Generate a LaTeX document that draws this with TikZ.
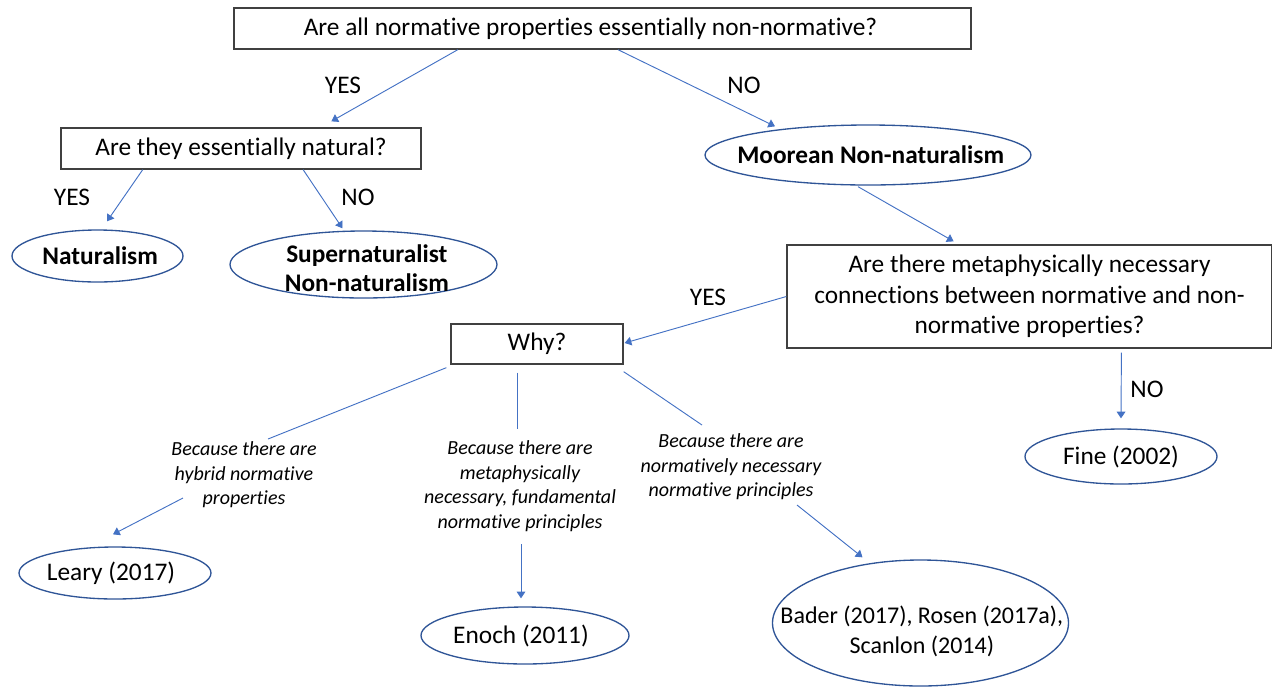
\documentclass[tikz,border=0pt]{standalone}
\usepackage{fontspec}
\setmainfont{Carlito}[Ligatures=NoCommon]
\usetikzlibrary{arrows.meta,shapes.geometric,calc}
\definecolor{lineblue}{HTML}{4472C4}
\definecolor{ellblue}{HTML}{2F5597}
\definecolor{boxgray}{HTML}{404040}
\begin{document}
\begin{tikzpicture}[x=0.75pt,y=-0.75pt,
  qbox/.style={draw=boxgray,line width=1pt,rectangle,inner sep=0pt,align=center,
    font=\fontsize{19}{22.8}\selectfont},
  qtext/.style={inner sep=0pt,align=center,font=\fontsize{19}{22.8}\selectfont},
  oval/.style={draw=ellblue,line width=1pt,ellipse,inner sep=0pt},
  ovaltext/.style={align=center,inner sep=0pt,font=\fontsize{19}{22.5}\selectfont},
  ovalmid/.style={align=center,inner sep=0pt,font=\fontsize{18}{22.5}\selectfont},
  ovalbold/.style={ovaltext,font=\fontsize{19}{22}\selectfont\bfseries},
  yn/.style={inner sep=0pt,font=\fontsize{19}{22}\selectfont},
  reason/.style={inner sep=0pt,align=center,font=\fontsize{15}{18.4}\selectfont\itshape},
  conn/.style={draw=lineblue,line width=0.7pt},
  arr/.style={conn,-{Triangle[length=5pt,width=6.5pt]}}]
\useasboundingbox (0,0) rectangle (1272,687);

% question boxes
\node[qbox,minimum width=552.75pt,minimum height=30.75pt,
  label={[qtext,xshift=-9pt]center:Are all normative properties essentially non-normative?}] (top) at (602.5,28.5) {};
\node[qbox,minimum width=270pt,minimum height=30.75pt] (box2) at (241,148.5)
  {Are they essentially natural?};
\node[qbox,minimum width=363.75pt,minimum height=77.25pt] (box3) at (1029.5,296.5)
  {Are there metaphysically necessary\\connections between normative and non-\\normative properties?};
\node[qbox,minimum width=129pt,minimum height=30pt] (why) at (537,344) {Why?};

% ellipses
\node[oval,minimum width=128.25pt,minimum height=39pt,
  label={[ovalbold,xshift=2pt]center:Naturalism}] (nat) at (97.5,256) {};
\node[oval,minimum width=200.25pt,minimum height=50.25pt,
  label={[ovalbold,xshift=2.5pt,yshift=-3pt]center:Supernaturalist\\Non-naturalism}] (sup) at (363.5,264.5) {};
\node[oval,minimum width=244.5pt,minimum height=45pt,
  label={[ovalbold,xshift=2pt]center:Moorean Non-naturalism}] (moor) at (868,155) {};
\node[oval,minimum width=144pt,minimum height=41.25pt,
  label={[ovaltext]center:Fine (2002)}] (fine) at (1121,456.5) {};
\node[oval,minimum width=144pt,minimum height=39pt,
  label={[ovaltext,xshift=-3pt]center:Leary (2017)}] (leary) at (115,573) {};
\node[oval,minimum width=156pt,minimum height=42.75pt,
  label={[ovaltext,xshift=-3pt]center:Enoch (2011)}] (enoch) at (525,635.5) {};
\node[oval,minimum width=222pt,minimum height=94.5pt,
  label={[ovalmid,xshift=1pt,yshift=-6.5pt]center:Bader (2017), Rosen (2017a),\\Scanlon (2014)}] (bader) at (920.5,623) {};

% reason labels
\node[reason] (lab1) at (244,475) {Because there are\\hybrid normative\\properties};
\node[reason] (lab2) at (520,486) {Because there are\\metaphysically\\necessary, fundamental\\normative principles};
\node[reason] (lab3) at (731,467) {Because there are\\normatively necessary\\normative principles};

% yes/no labels
\node[yn] (y1) at (343,85) {YES};
\node[yn] (n1) at (744,85) {NO};
\node[yn] (y2) at (72,197) {YES};
\node[yn] (n2) at (358,197) {NO};
\node[yn] (y3) at (708,297) {YES};
\node[yn] (n3) at (1147,389) {NO};

% connectors
\draw[arr] ($(top.south west)!0.304!(top.south east)$) -- ($(box2.north west)!0.75!(box2.north east)+(0,-6)$);
\draw[arr] ($(top.south west)!0.521!(top.south east)$) -- ($(moor.north)+(-93,2)$);
\draw[arr] ($(box2.south west)!0.228!(box2.south east)$) -- ($(nat.north)+(9.5,-8)$);
\draw[arr] ($(box2.south west)!0.672!(box2.south east)$) -- ($(sup.north)+(-21,-2)$);
\draw[arr] ($(moor.south)+(-10,1)$) -- ($(box3.north west)!0.344!(box3.north east)+(0,-3)$);
\draw[arr] (box3.west) -- ($(why.east)+(1,-1)$);
\draw[arr] ($(box3.south west)!0.689!(box3.south east)+(0,4)$) -- ($(fine.north)+(0,-10)$);
\draw[conn] ($(why.south west)+(-4,3)$) -- ($(lab1.center)+(24,-36)$);
\draw[arr] ($(lab1.center)+(-61,23)$) -- ($(leary.north)+(-2,-12)$);
\draw[conn] ($(why.south)+(-20,8)$) -- ($(lab2.center)+(-3,-57)$);
\draw[arr] ($(lab2.center)+(1,58)$) -- ($(enoch.north)+(-4,-8)$);
\draw[conn] ($(why.south east)+(0,7)$) -- ($(lab3.center)+(-29,-42)$);
\draw[arr] ($(lab3.center)+(66,38)$) -- ($(bader.north)+(-58,-2)$);
\end{tikzpicture}
\end{document}
